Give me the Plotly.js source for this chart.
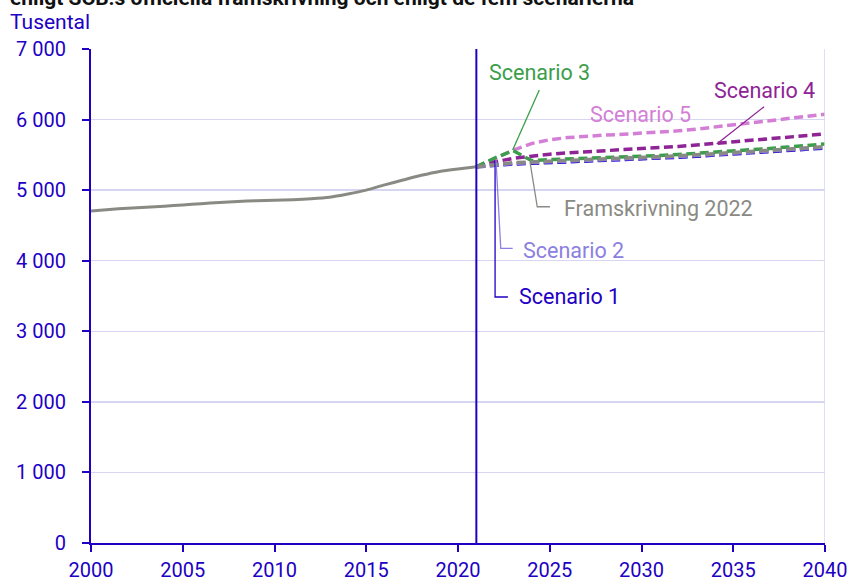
<!DOCTYPE html>
<html>
<head>
<meta charset="utf-8">
<script src="https://cdn.plot.ly/plotly-3.0.1.min.js"></script>
<style>html,body{margin:0;padding:0;background:#fff;}#chart{width:850px;height:581px;}</style>
</head>
<body>
<div id="chart"></div>
<script>
const histYears = [2000,2001,2002,2003,2004,2005,2006,2007,2008,2009,2010,2011,2012,2013,2014,2015,2016,2017,2018,2019,2020,2021];
const histValues = [4703,4725,4745,4758,4772,4790,4808,4825,4840,4850,4858,4865,4878,4900,4945,5000,5075,5143,5210,5265,5300,5330];

const projYears = [2021,2022,2023,2024,2025,2026,2027,2028,2029,2030,2031,2032,2033,2034,2035,2036,2037,2038,2039,2040];
const framskrivning2022 = [5330,5365,5388,5400,5410,5418,5425,5435,5447,5460,5472,5486,5500,5515,5530,5547,5563,5580,5598,5616];
const scenario1 = [5330,5355,5370,5380,5390,5398,5405,5415,5427,5440,5452,5466,5480,5495,5510,5527,5543,5560,5578,5596];
const scenario2 = [5330,5360,5378,5390,5400,5408,5415,5425,5437,5450,5462,5476,5490,5505,5520,5537,5553,5570,5588,5606];
const scenario3 = [5330,5455,5560,5420,5432,5440,5448,5456,5466,5477,5490,5505,5520,5537,5554,5572,5591,5611,5632,5654];
const scenario4 = [5330,5400,5450,5485,5510,5530,5545,5556,5567,5580,5598,5618,5640,5663,5686,5709,5731,5753,5775,5796];
const scenario5 = [5330,5450,5565,5660,5715,5745,5765,5780,5792,5805,5820,5840,5865,5895,5925,5955,5985,6015,6045,6075];

const yTicks = [0,1000,2000,3000,4000,5000,6000,7000];
const xTicks = [2000,2005,2010,2015,2020,2025,2030,2035,2040];

const titleText = "enligt SCB:s officiella framskrivning och enligt de fem scenarierna";
const unitText = "Tusental";

const axisCol = "#2100c4";
const gridCol = "#d6d6f2";
const C = {
  hist: "#8a8a84", fram: "#8a8a84", s1: "#2100c4", s2: "#8c80e0",
  s3: "#3a9e4a", s4: "#8e2496", s5: "#d47fd6"
};
const dash = "9px,4.5px";

function proj(y, col, name, w) {
  return {x: projYears, y: y, type: "scatter", mode: "lines", name: name,
          line: {color: col, width: w || 3.5, dash: dash}, hoverinfo: "skip"};
}

const traces = [
  {x: histYears, y: histValues, type: "scatter", mode: "lines", name: "Historik",
   line: {color: C.hist, width: 3, shape: "spline", smoothing: 0.6}},
  proj(scenario5, C.s5, "Scenario 5"),
  proj(scenario4, C.s4, "Scenario 4"),
  proj(scenario1, C.s1, "Scenario 1"),
  proj(scenario2, C.s2, "Scenario 2"),
  proj(scenario3, C.s3, "Scenario 3"),
  proj(framskrivning2022, C.fram, "Framskrivning 2022")
];

const fontFam = "Roboto, 'Noto Sans', sans-serif";
const lbl = 21.5;
const tickSize = 20;

function leader(pts, col) {
  let d = "M" + pts.map(p => p[0] + "," + p[1]).join(" L");
  return {type: "path", xref: "x", yref: "y", path: d, line: {color: col, width: 1.3}};
}

const layout = {
  width: 850, height: 581,
  margin: {l: 91, r: 25, t: 49, b: 38},
  paper_bgcolor: "#fff", plot_bgcolor: "#fff",
  showlegend: false,
  separators: ", ",
  font: {family: fontFam, color: axisCol, size: tickSize},
  xaxis: {
    range: [2000, 2040], tickvals: xTicks, ticktext: xTicks.map(String),
    showgrid: false, zeroline: false, showline: true, linecolor: axisCol, linewidth: 2,
    ticks: "outside", ticklen: 7, tickwidth: 2, tickcolor: axisCol, ticklabelstandoff: 1,
    tickfont: {size: tickSize, color: axisCol, family: fontFam}
  },
  yaxis: {
    range: [0, 7000], tickvals: yTicks, tickformat: ",d",
    showgrid: true, gridcolor: gridCol, gridwidth: 1.5, zeroline: false,
    showline: true, linecolor: axisCol, linewidth: 2,
    ticks: "outside", ticklen: 7, tickwidth: 2, tickcolor: axisCol, ticklabelstandoff: 12,
    tickfont: {size: tickSize, color: axisCol, family: fontFam}
  },
  shapes: [
    {type: "line", xref: "x", yref: "paper", x0: 2040, x1: 2040, y0: 0, y1: 1, line: {color: gridCol, width: 1.5}},
    {type: "line", xref: "x", yref: "paper", x0: 2021, x1: 2021, y0: 0, y1: 1, line: {color: axisCol, width: 2}},
    leader([[2022.02,5427],[2022.02,3486],[2022.72,3486]], C.s1),
    leader([[2022.07,5427],[2022.33,4176],[2022.98,4176]], C.s2),
    leader([[2023.92,5403],[2024.32,4765],[2025.01,4765]], C.fram),
    leader([[2024.43,6419],[2022.98,5569]], C.s3),
    leader([[2036.68,6182],[2034.10,5654]], C.s4)
  ],
  annotations: [
    {xref: "paper", yref: "paper", x: -0.113, y: 1.104, xanchor: "left", yanchor: "middle",
     text: "<b>" + titleText + "</b>", showarrow: false, font: {size: 21, color: "#111", family: fontFam}},
    {xref: "paper", yref: "paper", x: -0.113, y: 1.0547, xanchor: "left", yanchor: "middle",
     text: unitText, showarrow: false, font: {size: 21, color: axisCol, family: fontFam}},
    {xref: "x", yref: "y", x: 2023.21, y: 3486, xanchor: "left", yanchor: "middle", text: "Scenario 1",
     showarrow: false, font: {size: lbl, color: C.s1, family: fontFam}},
    {xref: "x", yref: "y", x: 2023.43, y: 4150, xanchor: "left", yanchor: "middle", text: "Scenario 2",
     showarrow: false, font: {size: lbl, color: C.s2, family: fontFam}},
    {xref: "x", yref: "y", x: 2025.65, y: 4743, xanchor: "left", yanchor: "middle", text: "Framskrivning 2022",
     showarrow: false, font: {size: lbl, color: C.fram, family: fontFam}},
    {xref: "x", yref: "y", x: 2024.42, y: 6660, xanchor: "center", yanchor: "middle", text: "Scenario 3",
     showarrow: false, font: {size: lbl, color: C.s3, family: fontFam}},
    {xref: "x", yref: "y", x: 2036.68, y: 6419, xanchor: "center", yanchor: "middle", text: "Scenario 4",
     showarrow: false, font: {size: lbl, color: C.s4, family: fontFam}},
    {xref: "x", yref: "y", x: 2029.95, y: 6065, xanchor: "center", yanchor: "middle", text: "Scenario 5",
     showarrow: false, font: {size: lbl, color: C.s5, family: fontFam}}
  ]
};

Plotly.newPlot("chart", traces, layout, {staticPlot: true, displayModeBar: false});
</script>
</body>
</html>
